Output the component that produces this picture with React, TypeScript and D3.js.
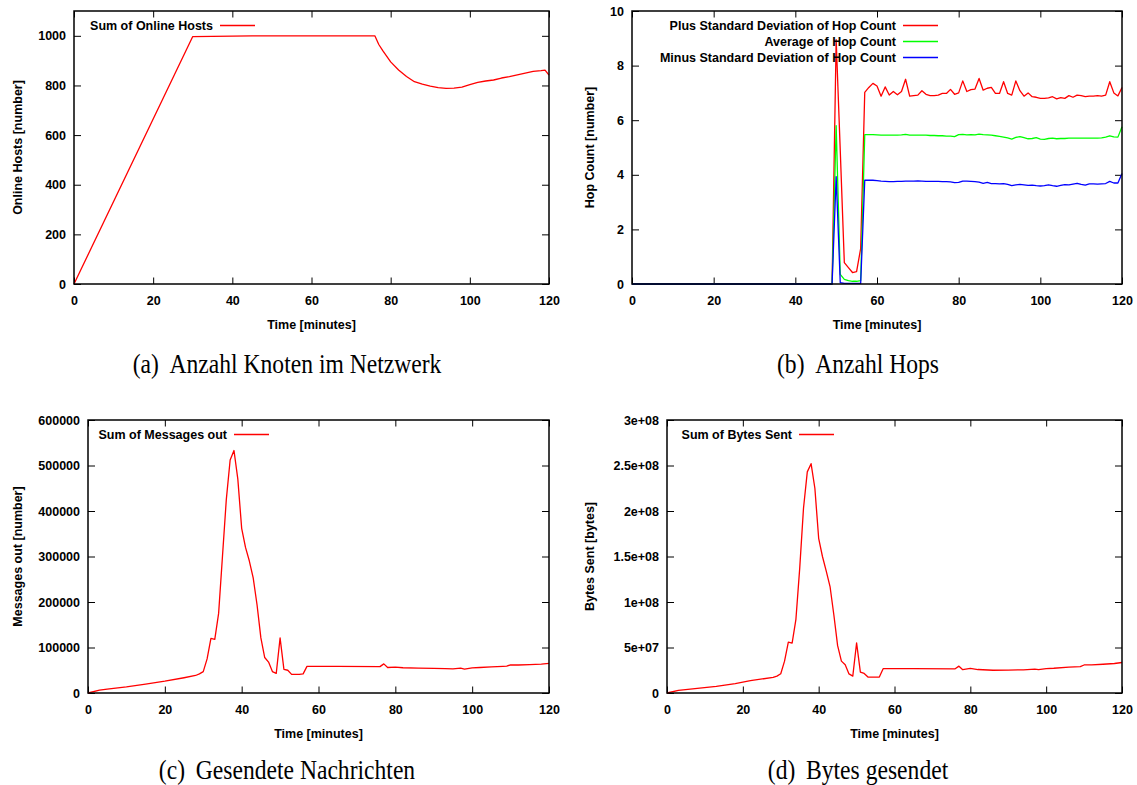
import * as React from 'react';
import { useRef, useEffect } from 'react';
import * as d3 from 'd3';

// x axis shared by all four plots
const xTickValues = [0, 20, 40, 60, 80, 100, 120];

// (a) online hosts
const hostsTime = [0, 30, 45, 76, 77, 78, 80, 82, 84, 86, 88, 90, 92, 94, 96, 98, 100, 102, 104, 106, 108, 110, 112, 114, 116, 118, 119, 120];
const hostsValue = [0, 997, 1000, 1000, 965, 940, 895, 862, 836, 815, 805, 797, 791, 788, 789, 793, 803, 812, 818, 822, 830, 836, 843, 850, 857, 860, 862, 842];
const hostsTicks = [0, 200, 400, 600, 800, 1000];

// (b) hop count
const hopTime = [0, 49, 50, 51, 52, 53, 54, 55, 56, 57, 58, 59, 60, 61, 62, 63, 64, 65, 66, 67, 68, 69, 70, 71, 72, 73, 74, 75, 76, 77, 78, 79, 80, 81, 82, 83, 84, 85, 86, 87, 88, 89, 90, 91, 92, 93, 94, 95, 96, 97, 98, 99, 100, 101, 102, 103, 104, 105, 106, 107, 108, 109, 110, 111, 112, 113, 114, 115, 116, 117, 118, 119, 120];
const hopPlus = [0, 0, 8.95, 4.9, 0.78, 0.6, 0.42, 0.45, 1.3,
  7.02, 7.2, 7.35, 7.25, 6.88, 7.22, 6.92, 7.05, 6.93, 7.05, 7.5, 6.88, 6.9, 6.92, 7.08, 6.95, 6.9, 6.9, 6.92, 6.98,
  6.98, 7.13, 6.95, 7.0, 7.44, 7.05, 7.12, 7.14, 7.53, 7.1, 7.17, 7.2, 6.98, 6.98, 7.41, 6.98, 6.92, 7.44, 7.08, 6.88,
  7.0, 6.86, 6.84, 6.8, 6.8, 6.82, 6.86, 6.78, 6.83, 6.8, 6.9, 6.84, 6.92, 6.9, 6.86, 6.88, 6.88, 6.9, 6.88, 6.92,
  7.41, 7.0, 6.89, 7.2];
const hopAvg = [0, 0, 5.8, 0.35, 0.17, 0.12, 0.1, 0.1, 0.12,
  5.47, 5.47, 5.47, 5.46, 5.45, 5.45, 5.45, 5.45, 5.45, 5.46, 5.48, 5.45, 5.45, 5.45, 5.45, 5.45, 5.44, 5.44, 5.43, 5.43,
  5.42, 5.42, 5.4, 5.47, 5.48, 5.46, 5.47, 5.46, 5.49, 5.47, 5.46, 5.45, 5.43, 5.41, 5.38, 5.35, 5.31, 5.37, 5.4, 5.36,
  5.32, 5.33, 5.36, 5.31, 5.3, 5.33, 5.34, 5.32, 5.33, 5.33, 5.34, 5.34, 5.34, 5.34, 5.34, 5.34, 5.34, 5.34, 5.35, 5.38,
  5.43, 5.39, 5.38, 5.76];
const hopMinus = [0, 0, 3.93, 0.05, 0.02, 0.02, 0.02, 0.02, 0.02,
  3.8, 3.8, 3.8, 3.79, 3.77, 3.76, 3.75, 3.75, 3.76, 3.76, 3.77, 3.77, 3.77, 3.78, 3.77, 3.76, 3.76, 3.76, 3.76, 3.75,
  3.75, 3.74, 3.71, 3.72, 3.77, 3.77, 3.76, 3.75, 3.73, 3.69, 3.72, 3.68, 3.68, 3.67, 3.68, 3.65, 3.6, 3.63, 3.65, 3.63,
  3.61, 3.62, 3.6, 3.59, 3.6, 3.63, 3.6, 3.58, 3.61, 3.64, 3.63, 3.66, 3.69, 3.65, 3.62, 3.67, 3.67, 3.66, 3.67, 3.68,
  3.76, 3.7, 3.7, 4.05];
const hopTicks = [0, 2, 4, 6, 8, 10];

// (c) messages out
const msgTime = [0, 3, 5, 10, 15, 20, 25, 28,
  29, 30, 31, 32, 33, 34, 35, 36, 37, 38, 39, 40, 41, 42, 43, 44, 45, 46, 47, 48, 49, 50, 51, 52, 53, 54, 55, 56, 57,
  65, 76, 77, 78, 80, 82, 86, 90, 93, 95, 97, 98, 100, 102, 105, 108, 109, 110, 112, 115, 118, 120];
const msgValue = [0, 6500, 8500, 13500, 19500, 26000, 33500, 38500,
  42000, 47000, 75000, 120000, 118000, 175000, 300000, 425000, 512000, 533000, 470000, 362000, 320000, 290000, 253000,
  194000, 121000, 78000, 68000, 47000, 43000, 121000, 52000, 50000, 41000, 41000, 41000, 42000, 58500,
  58500, 58000, 64000, 56000, 57000, 55500, 54500, 54000, 53500, 53000, 54500, 52500, 55000, 56000, 57500, 58500,
  59000, 62000, 61500, 62500, 63500, 65000];
const msgTicks = [0, 100000, 200000, 300000, 400000, 500000, 600000];

// (d) bytes sent
const bytesTime = [0, 3, 8, 13, 18, 22, 28,
  29, 30, 31, 32, 33, 34, 35, 36, 37, 38, 39, 40, 41, 42, 43, 44, 45, 46, 47, 48, 49, 50, 51, 52, 53, 54, 55, 56, 57,
  65, 76, 77, 78, 80, 82, 86, 90, 94, 97, 98, 100, 102, 106, 109, 110, 112, 115, 118, 120];
const bytesValue = [0, 2.9e6, 5.1e6, 7.3e6, 1.02e7, 1.35e7, 1.72e7,
  1.86e7, 2.12e7, 3.5e7, 5.6e7, 5.48e7, 8.1e7, 1.37e8, 2.03e8, 2.43e8, 2.52e8, 2.25e8, 1.7e8, 1.5e8, 1.34e8, 1.17e8,
  8.6e7, 5.2e7, 3.5e7, 3.1e7, 2.1e7, 1.85e7, 5.5e7, 2.3e7, 2.15e7, 1.75e7, 1.75e7, 1.75e7, 1.75e7, 2.67e7,
  2.67e7, 2.66e7, 2.95e7, 2.56e7, 2.7e7, 2.58e7, 2.5e7, 2.52e7, 2.55e7, 2.62e7, 2.56e7, 2.68e7, 2.72e7, 2.85e7,
  2.9e7, 3.08e7, 3.1e7, 3.16e7, 3.24e7, 3.35e7];
const bytesTicks = [0, 5e7, 1e8, 1.5e8, 2e8, 2.5e8, 3e8];

const SANS = '"Liberation Sans", Arial, Helvetica, sans-serif';
const SERIF = '"Liberation Serif", "Times New Roman", serif';

type Series = { label: string; color: string; time: number[]; value: number[] };

type Panel = {
  left: number; right: number; top: number; bottom: number;
  yMax: number; yTicks: number[]; yFormat: (v: number) => string;
  yLabel: string; yLabelX: number;
  series: Series[];
  keyX: number; // right end of the legend text
  caption: [string, string]; captionX: number; captionY: number;
};

const sciFormat = (v: number) => {
  if (v === 0) return '0';
  const e = Math.floor(Math.log10(v));
  const m = +(v / Math.pow(10, e)).toFixed(2);
  return `${m}e+${String(e).padStart(2, '0')}`;
};

const panels: Panel[] = [
  {
    left: 74, right: 549, top: 11, bottom: 284,
    yMax: 1100, yTicks: hostsTicks, yFormat: v => String(v),
    yLabel: 'Online Hosts [number]', yLabelX: 18,
    series: [{ label: 'Sum of Online Hosts', color: '#ff0000', time: hostsTime, value: hostsValue }],
    keyX: 213,
    caption: ['(a)', 'Anzahl Knoten im Netzwerk'], captionX: 287, captionY: 373,
  },
  {
    left: 632, right: 1122, top: 11, bottom: 284,
    yMax: 10, yTicks: hopTicks, yFormat: v => String(v),
    yLabel: 'Hop Count [number]', yLabelX: 590,
    series: [
      { label: 'Plus Standard Deviation of Hop Count', color: '#ff0000', time: hopTime, value: hopPlus },
      { label: 'Average of Hop Count', color: '#00ff00', time: hopTime, value: hopAvg },
      { label: 'Minus Standard Deviation of Hop Count', color: '#0000ff', time: hopTime, value: hopMinus },
    ],
    keyX: 896,
    caption: ['(b)', 'Anzahl Hops'], captionX: 858, captionY: 373,
  },
  {
    left: 88, right: 549, top: 420, bottom: 693,
    yMax: 600000, yTicks: msgTicks, yFormat: v => String(v),
    yLabel: 'Messages out [number]', yLabelX: 18,
    series: [{ label: 'Sum of Messages out', color: '#ff0000', time: msgTime, value: msgValue }],
    keyX: 227,
    caption: ['(c)', 'Gesendete Nachrichten'], captionX: 287, captionY: 779,
  },
  {
    left: 667, right: 1122, top: 420, bottom: 693,
    yMax: 3e8, yTicks: bytesTicks, yFormat: sciFormat,
    yLabel: 'Bytes Sent [bytes]', yLabelX: 590,
    series: [{ label: 'Sum of Bytes Sent', color: '#ff0000', time: bytesTime, value: bytesValue }],
    keyX: 792,
    caption: ['(d)', 'Bytes gesendet'], captionX: 858, captionY: 779,
  },
];

function drawPanel(svg: d3.Selection<SVGSVGElement, unknown, null, undefined>, p: Panel) {
  const x = d3.scaleLinear().domain([0, 120]).range([p.left, p.right]);
  const y = d3.scaleLinear().domain([0, p.yMax]).range([p.bottom, p.top]);
  const g = svg.append('g');

  // axes, ticks inward on all sides like gnuplot
  const axes = [
    { a: d3.axisBottom(x).tickValues(xTickValues).tickSize(-6.5).tickPadding(12.6), t: `translate(0,${p.bottom})` },
    { a: d3.axisTop(x).tickValues(xTickValues).tickSize(-6.5).tickFormat(() => ''), t: `translate(0,${p.top})` },
    { a: d3.axisLeft(y).tickValues(p.yTicks).tickSize(-7).tickPadding(8).tickFormat(d => p.yFormat(+d)), t: `translate(${p.left},0)` },
    { a: d3.axisRight(y).tickValues(p.yTicks).tickSize(-7).tickFormat(() => ''), t: `translate(${p.right},0)` },
  ];
  axes.forEach(({ a, t }) => {
    const ag = g.append('g').attr('transform', t).call(a as any);
    ag.select('.domain').remove();
    ag.selectAll('line').attr('stroke', '#000').attr('stroke-width', 1);
    ag.selectAll('text')
      .attr('fill', '#000')
      .style('font-family', SANS)
      .style('font-weight', 'bold')
      .style('font-size', '12.5px');
  });

  // data lines
  p.series.forEach(s => {
    const pts = s.time.map((t, i) => [t, s.value[i]] as [number, number]);
    const line = d3.line<[number, number]>().x(d => x(d[0])).y(d => y(d[1]));
    g.append('path')
      .attr('d', line(pts))
      .attr('fill', 'none')
      .style('stroke', s.color)
      .attr('stroke-width', 1.3)
      .attr('stroke-linejoin', 'round');
  });

  // key
  p.series.forEach((s, i) => {
    const ky = p.top + 14.5 + i * 16;
    g.append('text')
      .attr('x', p.keyX).attr('y', ky).attr('dy', '0.35em')
      .attr('text-anchor', 'end')
      .style('font-family', SANS).style('font-weight', 'bold').style('font-size', '12.5px')
      .text(s.label);
    g.append('path')
      .attr('d', `M${p.keyX + 7},${ky}H${p.keyX + 42}`)
      .attr('fill', 'none')
      .style('stroke', s.color)
      .attr('stroke-width', 1.3);
  });

  // frame
  g.append('rect')
    .attr('x', p.left).attr('y', p.top)
    .attr('width', p.right - p.left).attr('height', p.bottom - p.top)
    .attr('fill', 'none').attr('stroke', '#000').attr('stroke-width', 1.5);

  // axis titles
  g.append('text')
    .attr('x', (p.left + p.right) / 2).attr('y', p.bottom + 45)
    .attr('text-anchor', 'middle')
    .style('font-family', SANS).style('font-weight', 'bold').style('font-size', '12.5px')
    .text('Time [minutes]');
  g.append('text')
    .attr('transform', `translate(${p.yLabelX},${(p.top + p.bottom) / 2}) rotate(-90)`)
    .attr('dy', '0.35em')
    .attr('text-anchor', 'middle')
    .style('font-family', SANS).style('font-weight', 'bold').style('font-size', '12.5px')
    .text(p.yLabel);

  // sub caption
  const cap = g.append('text')
    .attr('transform', `translate(${p.captionX},${p.captionY}) scale(1,1.15)`)
    .attr('text-anchor', 'middle')
    .style('font-family', SERIF).style('font-size', '23.6px')
    .attr('fill', '#000');
  cap.append('tspan').text(p.caption[0]);
  cap.append('tspan').attr('dx', 10.7).text(p.caption[1]);
}

export default function App() {
  const svgRef = useRef<SVGSVGElement | null>(null);

  useEffect(() => {
    if (!svgRef.current) return;
    const svg = d3.select(svgRef.current);
    svg.selectAll('*').remove();
    panels.forEach(p => drawPanel(svg, p));
  }, []);

  return (
    <svg
      ref={svgRef}
      width={1137}
      height={785}
      style={{ position: 'absolute', left: 0, top: 0, background: '#fff', display: 'block' }}
    />
  );
}
